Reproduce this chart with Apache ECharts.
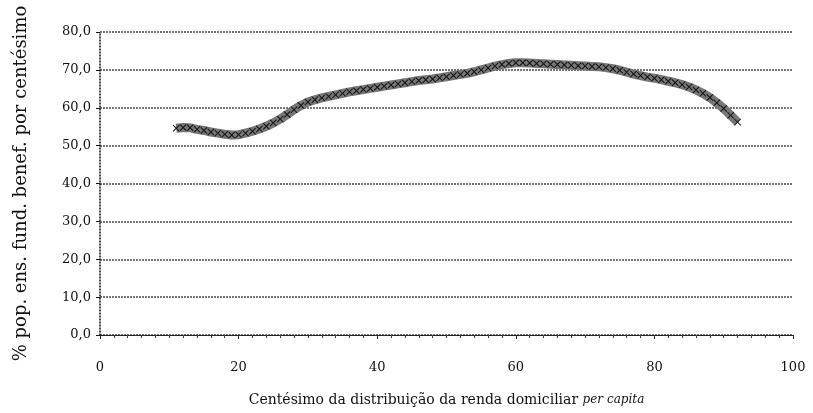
<!DOCTYPE html>
<html><head><meta charset="utf-8">
<script src="https://cdn.jsdelivr.net/npm/echarts@6/dist/echarts.min.js"></script>
<style>html,body{margin:0;padding:0;background:#fff}#c{width:813px;height:413px}</style>
</head><body><div id="c"></div>
<script>
var percentiles = [11,12,13,14,15,16,17,18,19,20,21,22,23,24,25,26,27,28,29,30,31,32,33,34,35,36,37,38,39,40,41,42,43,44,45,46,47,48,49,50,51,52,53,54,55,56,57,58,59,60,61,62,63,64,65,66,67,68,69,70,71,72,73,74,75,76,77,78,79,80,81,82,83,84,85,86,87,88,89,90,91,92];
var shares = [54.6,54.8,54.7,54.3,54.0,53.6,53.3,53.0,52.8,52.9,53.3,53.8,54.4,55.1,56.0,57.0,58.2,59.5,60.6,61.5,62.1,62.6,63.0,63.4,63.8,64.2,64.5,64.8,65.1,65.4,65.7,66.0,66.3,66.6,66.9,67.2,67.4,67.6,67.9,68.2,68.5,68.8,69.1,69.5,70.0,70.5,71.0,71.4,71.7,71.9,71.9,71.8,71.7,71.6,71.5,71.4,71.3,71.2,71.1,71.0,70.9,70.8,70.6,70.3,69.9,69.4,68.9,68.5,68.1,67.8,67.4,67.0,66.6,66.1,65.5,64.7,63.8,62.7,61.3,59.8,58.0,56.2];
var xTitle = 'Centésimo da distribuição da renda domiciliar ';
var xTitleItalic = 'per capita';
var yTitle = '% pop. ens. fund. benef. por centésimo';

var chart = echarts.init(document.getElementById('c'));
var font = 'DejaVu Serif';
chart.setOption({
  animation: false,
  grid: {left: 100, right: 20, top: 32, bottom: 78, containLabel: false},
  xAxis: {
    type: 'value', min: 0, max: 100, interval: 20,
    axisLine: {show: true, lineStyle: {color: '#222', width: 1}},
    axisTick: {show: true, length: 4, lineStyle: {color: '#222'}},
    minorTick: {show: true, splitNumber: 10, length: 3, lineStyle: {color: '#444'}},
    splitLine: {show: false},
    axisLabel: {color: '#111', fontFamily: font, fontSize: 13, margin: 26},
    name: '{a|' + xTitle + '}{b|' + xTitleItalic + '}',
    nameLocation: 'middle', nameGap: 58,
    nameTextStyle: {rich: {
      a: {fontFamily: font, fontSize: 14, color: '#111'},
      b: {fontFamily: font, fontSize: 12, fontStyle: 'italic', color: '#111'}
    }}
  },
  yAxis: {
    type: 'value', min: 0, max: 80, interval: 10,
    axisLine: {show: true, lineStyle: {color: '#111', type: [1, 2], width: 1.5}},
    axisTick: {show: true, length: 4, inside: false, lineStyle: {color: '#111'}},
    splitLine: {show: true, lineStyle: {color: '#777', type: [2, 1], width: 2}},
    axisLabel: {color: '#111', fontFamily: font, fontSize: 13, margin: 9,
      formatter: function (v) { return v.toFixed(1).replace('.', ','); }},
    name: yTitle, nameLocation: 'middle', nameGap: 70, nameRotate: 90,
    nameTextStyle: {fontFamily: font, fontSize: 18, color: '#111'}
  },
  series: [{
    type: 'line',
    data: percentiles.map(function (p, i) { return [p, shares[i]]; }),
    smooth: false,
    lineStyle: {color: '#777', width: 9},
    symbol: 'path://M0,1L1,0L5,4L9,0L10,1L6,5L10,9L9,10L5,6L1,10L0,9L4,5Z',
    symbolSize: 7,
    itemStyle: {color: '#111'},
    showSymbol: true
  }]
});
</script></body></html>
